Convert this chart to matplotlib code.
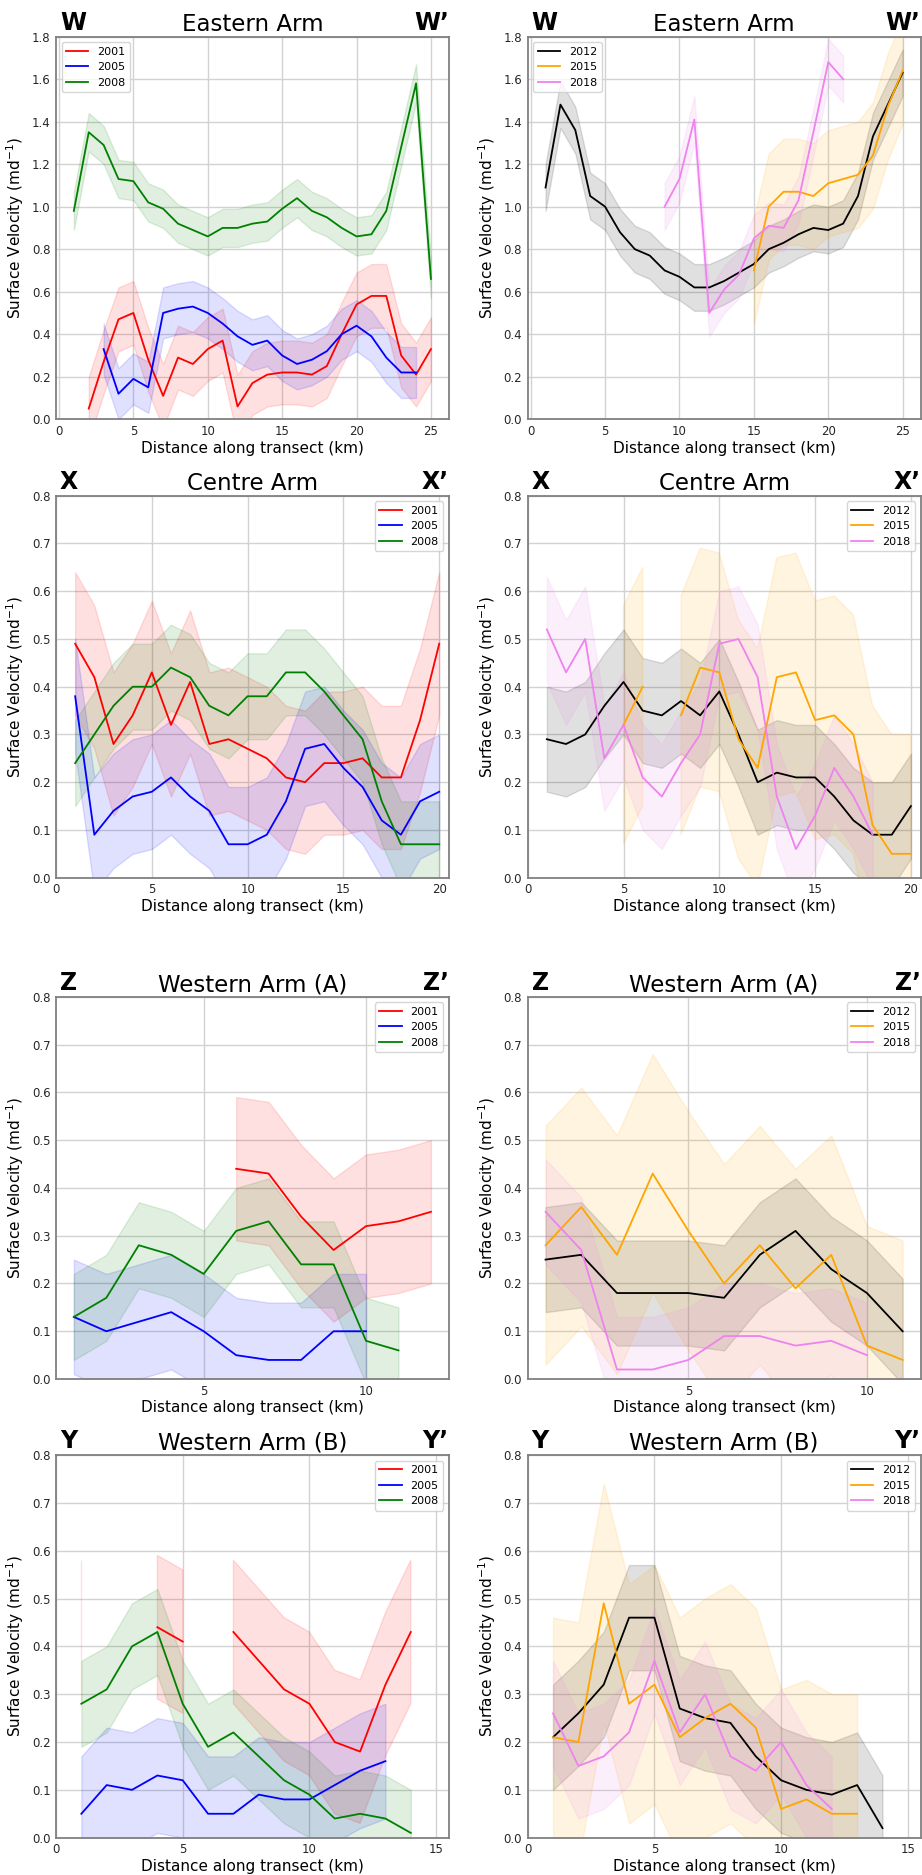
import numpy as np
import matplotlib.pyplot as plt

nan = np.nan

# years, colours and the half-width of the shaded band for each year
years_early = ['2001', '2005', '2008']
years_late = ['2012', '2015', '2018']
colors_early = ['red', 'blue', 'green']
colors_late = ['black', 'orange', 'violet']
band_early = [0.15, 0.12, 0.09]
band_late = [0.11, 0.25, 0.11]

# Eastern Arm (W - W')
east_x = list(range(1, 26))
east_2001 = [nan, 0.05, 0.27, 0.47, 0.50, 0.28, 0.11, 0.29, 0.26, 0.33, 0.37, 0.06, 0.17,
             0.21, 0.22, 0.22, 0.21, 0.25, 0.40, 0.54, 0.58, 0.58, 0.30, 0.21, 0.33]
east_2005 = [nan, nan, 0.33, 0.12, 0.19, 0.15, 0.50, 0.52, 0.53, 0.50, 0.45, 0.39, 0.35,
             0.37, 0.30, 0.26, 0.28, 0.32, 0.40, 0.44, 0.39, 0.29, 0.22, 0.22, nan]
east_2008 = [0.98, 1.35, 1.29, 1.13, 1.12, 1.02, 0.99, 0.92, 0.89, 0.86, 0.90, 0.90, 0.92,
             0.93, 0.99, 1.04, 0.98, 0.95, 0.90, 0.86, 0.87, 0.98, 1.28, 1.58, 0.66]
east_2012 = [1.09, 1.48, 1.36, 1.05, 1.00, 0.88, 0.80, 0.77, 0.70, 0.67, 0.62, 0.62, 0.65,
             0.69, 0.73, 0.80, 0.83, 0.87, 0.90, 0.89, 0.92, 1.05, 1.33, 1.48, 1.63]
east_2015 = [nan, nan, nan, nan, nan, nan, nan, nan, nan, nan, nan, nan, nan,
             nan, 0.70, 1.00, 1.07, 1.07, 1.05, 1.11, 1.13, 1.15, 1.24, 1.47, 1.64]
east_2018 = [nan, nan, nan, nan, nan, nan, nan, nan, 1.00, 1.13, 1.41, 0.50, 0.61,
             0.68, 0.85, 0.91, 0.90, 1.03, 1.35, 1.68, 1.60, nan, nan, nan, nan]

# Centre Arm (X - X')
centre_x = list(range(1, 21))
centre_2001 = [0.49, 0.42, 0.28, 0.34, 0.43, 0.32, 0.41, 0.28, 0.29, 0.27,
               0.25, 0.21, 0.20, 0.24, 0.24, 0.25, 0.21, 0.21, 0.33, 0.49]
centre_2005 = [0.38, 0.09, 0.14, 0.17, 0.18, 0.21, 0.17, 0.14, 0.07, 0.07,
               0.09, 0.16, 0.27, 0.28, 0.23, 0.19, 0.12, 0.09, 0.16, 0.18]
centre_2008 = [0.24, 0.30, 0.36, 0.40, 0.40, 0.44, 0.42, 0.36, 0.34, 0.38,
               0.38, 0.43, 0.43, 0.39, 0.34, 0.29, 0.16, 0.07, 0.07, 0.07]
centre_2012 = [0.29, 0.28, 0.30, 0.36, 0.41, 0.35, 0.34, 0.37, 0.34, 0.39,
               0.30, 0.20, 0.22, 0.21, 0.21, 0.17, 0.12, 0.09, 0.09, 0.15]
centre_2015 = [nan, nan, nan, nan, 0.32, 0.40, nan, 0.34, 0.44, 0.43,
               0.29, 0.23, 0.42, 0.43, 0.33, 0.34, 0.30, 0.11, 0.05, 0.05]
centre_2018 = [0.52, 0.43, 0.50, 0.25, 0.32, 0.21, 0.17, 0.24, 0.30, 0.49,
               0.50, 0.42, 0.17, 0.06, 0.13, 0.23, 0.17, 0.09, nan, nan]

# Western Arm (A) (Z - Z')
westa_x_early = list(range(1, 13))
westa_2001 = [nan, nan, nan, nan, nan, 0.44, 0.43, 0.34, 0.27, 0.32, 0.33, 0.35]
westa_2005 = [0.13, 0.10, 0.12, 0.14, 0.10, 0.05, 0.04, 0.04, 0.10, 0.10, nan, nan]
westa_2008 = [0.13, 0.17, 0.28, 0.26, 0.22, 0.31, 0.33, 0.24, 0.24, 0.08, 0.06, nan]
westa_x_late = list(range(1, 12))
westa_2012 = [0.25, 0.26, 0.18, 0.18, 0.18, 0.17, 0.26, 0.31, 0.23, 0.18, 0.10]
westa_2015 = [0.28, 0.36, 0.26, 0.43, 0.31, 0.20, 0.28, 0.19, 0.26, 0.07, 0.04]
westa_2018 = [0.35, 0.27, 0.02, 0.02, 0.04, 0.09, 0.09, 0.07, 0.08, 0.05, nan]

# Western Arm (B) (Y - Y')
westb_x = list(range(1, 15))
westb_2001 = [0.43, nan, nan, 0.44, 0.41, nan, 0.43, 0.37, 0.31, 0.28, 0.20, 0.18, 0.32, 0.43]
westb_2005 = [0.05, 0.11, 0.10, 0.13, 0.12, 0.05, 0.05, 0.09, 0.08, 0.08, 0.11, 0.14, 0.16, nan]
westb_2008 = [0.28, 0.31, 0.40, 0.43, 0.28, 0.19, 0.22, 0.17, 0.12, 0.09, 0.04, 0.05, 0.04, 0.01]
westb_2012 = [0.21, 0.26, 0.32, 0.46, 0.46, 0.27, 0.25, 0.24, 0.17, 0.12, 0.10, 0.09, 0.11, 0.02]
westb_2015 = [0.21, 0.20, 0.49, 0.28, 0.32, 0.21, 0.25, 0.28, 0.23, 0.06, 0.08, 0.05, 0.05, nan]
westb_2018 = [0.26, 0.15, 0.17, 0.22, 0.37, 0.22, 0.30, 0.17, 0.14, 0.20, 0.11, 0.06, nan, nan]

east_yticks = [0.0, 0.2, 0.4, 0.6, 0.8, 1.0, 1.2, 1.4, 1.6, 1.8]
arm_yticks = [0.0, 0.1, 0.2, 0.3, 0.4, 0.5, 0.6, 0.7, 0.8]


def draw_panel(ax, x, series, years, colors, bands, title, tag, xlim, xticks,
               yticks, loc):
    x = np.asarray(x, dtype=float)
    for y, year, color, band in zip(series, years, colors, bands):
        y = np.asarray(y, dtype=float)
        ok = ~np.isnan(y)
        ax.fill_between(x, np.where(ok, y - band, 0), np.where(ok, y + band, 0),
                        where=ok, color=color, alpha=0.12, lw=1)
        ax.plot(x, y, color=color, lw=1.3, label=year)

    ax.set_xlim(xlim)
    ax.set_ylim(yticks[0], yticks[-1])
    ax.set_xticks(xticks)
    ax.set_yticks(yticks)
    ax.set_yticklabels(['%.1f' % v for v in yticks])
    ax.grid(True, color='#d2d2d2', lw=1)
    ax.set_axisbelow(True)
    for s in ax.spines.values():
        s.set_color('0.5')
        s.set_linewidth(1.3)
    ax.tick_params(length=0, labelsize=8.5, labelcolor='0.15', pad=4)

    ax.set_title(title, fontsize=16.5, pad=4)
    ax.text(0.01, 1.018, tag, transform=ax.transAxes, fontsize=17,
            fontweight='bold', ha='left', va='baseline')
    ax.text(1.0, 1.018, tag + '\u2019', transform=ax.transAxes, fontsize=17,
            fontweight='bold', ha='right', va='baseline')
    ax.set_xlabel('Distance along transect (km)', fontsize=11, labelpad=2)
    ax.set_ylabel('Surface Velocity (md$^{-1}$)', fontsize=11)
    ax.legend(loc=loc, fontsize=8)


fig = plt.figure(figsize=(9.22, 18.75), dpi=100)

lefts = [56 / 922, 527.7 / 922]
width = 392.8 / 922
rows = [(0.7764, 0.2041), (0.5319, 0.2037), (0.2645, 0.2039), (0.0199, 0.2041)]
axs = [[fig.add_axes([l, b, width, h]) for l in lefts] for b, h in rows]

draw_panel(axs[0][0], east_x, [east_2001, east_2005, east_2008], years_early,
           colors_early, band_early, 'Eastern Arm', 'W', (-0.2, 26.2),
           [0, 5, 10, 15, 20, 25], east_yticks, 'upper left')
draw_panel(axs[0][1], east_x, [east_2012, east_2015, east_2018], years_late,
           colors_late, band_late, 'Eastern Arm', 'W', (-0.2, 26.2),
           [0, 5, 10, 15, 20, 25], east_yticks, 'upper left')

draw_panel(axs[1][0], centre_x, [centre_2001, centre_2005, centre_2008], years_early,
           colors_early, band_early, 'Centre Arm', 'X', (0, 20.5),
           [0, 5, 10, 15, 20], arm_yticks, 'upper right')
draw_panel(axs[1][1], centre_x, [centre_2012, centre_2015, centre_2018], years_late,
           colors_late, band_late, 'Centre Arm', 'X', (0, 20.5),
           [0, 5, 10, 15, 20], arm_yticks, 'upper right')

draw_panel(axs[2][0], westa_x_early, [westa_2001, westa_2005, westa_2008], years_early,
           colors_early, band_early, 'Western Arm (A)', 'Z', (0.45, 12.55),
           [5, 10], arm_yticks, 'upper right')
draw_panel(axs[2][1], westa_x_late, [westa_2012, westa_2015, westa_2018], years_late,
           colors_late, band_late, 'Western Arm (A)', 'Z', (0.5, 11.5),
           [5, 10], arm_yticks, 'upper right')

draw_panel(axs[3][0], westb_x, [westb_2001, westb_2005, westb_2008], years_early,
           colors_early, band_early, 'Western Arm (B)', 'Y', (0, 15.5),
           [0, 5, 10, 15], arm_yticks, 'upper right')
draw_panel(axs[3][1], westb_x, [westb_2012, westb_2015, westb_2018], years_late,
           colors_late, band_late, 'Western Arm (B)', 'Y', (0, 15.5),
           [0, 5, 10, 15], arm_yticks, 'upper right')

fig.savefig('out.png', dpi=100)
